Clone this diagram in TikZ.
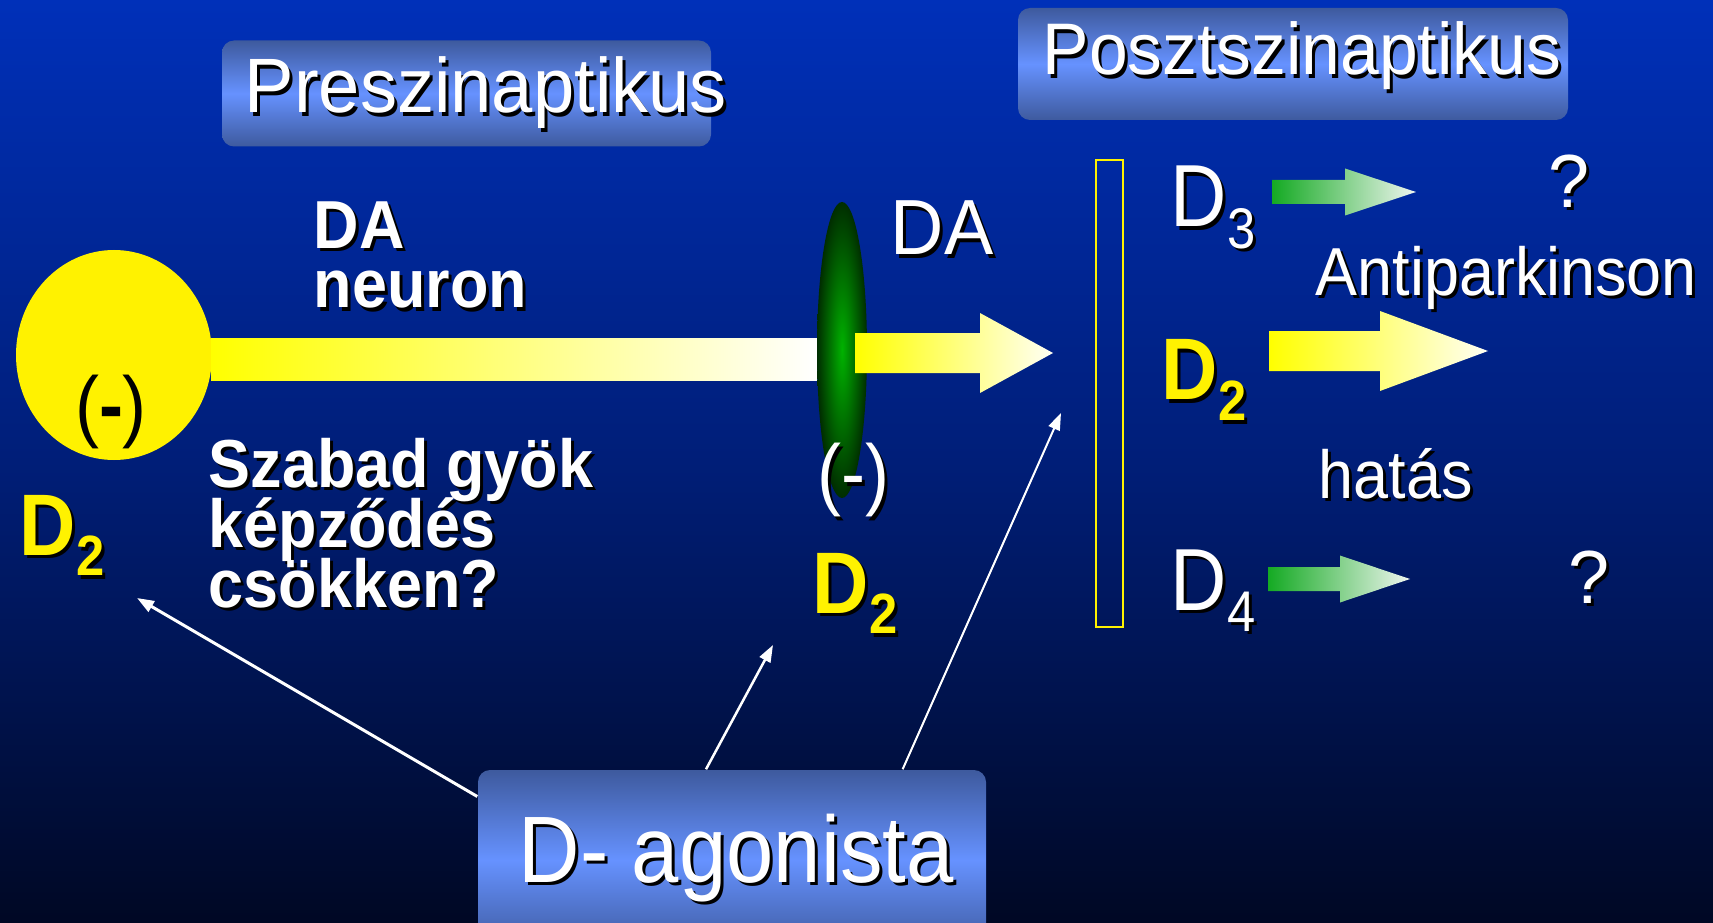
\documentclass[tikz,border=0pt]{standalone}
\usepackage{fontspec}
\setmainfont{Liberation Sans}
\usepackage{graphicx}
\usetikzlibrary{arrows.meta}

\definecolor{bgtop}{RGB}{0,48,185}
\definecolor{bgmid}{RGB}{0,30,120}
\definecolor{bgbot}{RGB}{0,8,36}
\definecolor{boxdark}{RGB}{62,90,158}
\definecolor{boxlight}{RGB}{102,146,255}
\definecolor{dagreen}{RGB}{0,178,0}
\definecolor{dadark}{RGB}{0,45,0}
\definecolor{arrgreen}{RGB}{20,170,35}
\definecolor{arrpale}{RGB}{240,246,240}

\newcommand{\shad}[2][1.08]{\scalebox{1}[#1]{\rlap{\kern0.3mm\raisebox{-0.3mm}{\color{black}#2}}#2}}
\newcommand{\lowsub}[1]{\raisebox{-0.24em}{\scalebox{0.65}{#1}}}
\newcommand{\tightlines}{\setlength{\lineskiplimit}{-1in}}

\begin{document}
\begin{tikzpicture}[x=0.1mm, y=-0.1mm,
  tbox/.style={rounded corners=1.2mm, top color=boxdark, bottom color=boxdark, middle color=boxlight, inner sep=0pt},
  txt/.style={text=white, inner sep=0pt, anchor=base west},
  bigtxt/.style={txt, font=\fontsize{21}{25}\selectfont},
  boldtxt/.style={txt, align=left, font=\bfseries\fontsize{17.9}{17.07}\selectfont\tightlines},
  smalltxt/.style={txt, font=\fontsize{17.9}{21}\selectfont},
  dtxt/.style={txt, font=\fontsize{22.2}{26}\selectfont},
  dbold/.style={txt, text=yellow, font=\bfseries\fontsize{22.2}{26}\selectfont},
  conn/.style={white, line width=0.25mm, -{Triangle[length=1.7mm, width=1.2mm]}}]

  \useasboundingbox (0,0) rectangle (1713,923);
  \clip (0,0) rectangle (1713,923);
  \shade[top color=bgtop, bottom color=bgbot, middle color=bgmid] (0,0) rectangle (1713,923);

  \node[tbox, minimum width=48.9mm, minimum height=10.6mm] (preBox) at (466.5,93.5) {};
  \node[txt, font=\fontsize{21.1}{25}\selectfont] (preTxt) at (244,113) {\shad[1.04]{Preszinaptikus}};
  \node[tbox, minimum width=55mm, minimum height=11.2mm] (postBox) at (1293,64) {};
  \node[txt, font=\fontsize{19.8}{24}\selectfont] (postTxt) at (1042,75) {\shad[1.05]{Posztszinaptikus}};

  % neuron
  \fill[yellow] (114,355) ellipse (98 and 105);
  \shade[left color=yellow, right color=white] (211,338) rectangle (817,380);
  \shade[inner color=dagreen, outer color=dadark] (842,350) ellipse (25 and 148);
  \foreach \xa/\xb/\xc/\yc in {855/980/1053/353, 1269/1380/1488/351}
    \shade[left color=yellow, right color=white!96!yellow]
      (\xa,\yc-20) -- (\xb,\yc-20) -- (\xb,\yc-40) -- (\xc,\yc) -- (\xb,\yc+40)
      -- (\xb,\yc+20) -- (\xa,\yc+20) -- cycle;
  \foreach \xa/\xb/\xc/\yc in {1272/1345/1416/192, 1268/1340/1410/579}
    \shade[left color=arrgreen, right color=arrpale]
      (\xa,\yc-12) -- (\xb,\yc-12) -- (\xb,\yc-23.5) -- (\xc,\yc) -- (\xb,\yc+23.5)
      -- (\xb,\yc+12) -- (\xa,\yc+12) -- cycle;
  \draw[yellow, line width=0.2mm] (1096,160) rectangle (1123,627);

  \node[txt, anchor=center, text=black, font=\fontsize{20.5}{24}\selectfont] (preMinus) at (111,412) {\scalebox{1}[1.1]{(\textbf{-})}};
  \node[txt, anchor=center, font=\fontsize{20.5}{24}\selectfont] (midMinus) at (853,482) {\shad[1.1]{(-)}};

  \node[boldtxt] (daNeuron) at (313,308) {\shad{DA}\\\shad{neuron}};
  \node[boldtxt] (szabad) at (208,607) {\shad{Szabad gyök}\\\shad{képződés}\\\shad{csökken?}};

  \node[bigtxt] (daSyn) at (890,255) {\shad[1.06]{DA}};
  \node[dbold] (preD) at (19,555) {\shad[1.12]{D\lowsub{2}}};
  \node[dbold] (midD) at (812,613) {\shad[1.12]{D\lowsub{2}}};
  \node[dbold] (postD) at (1161,400) {\shad[1.12]{D\lowsub{2}}};
  \node[dtxt] (dThree) at (1170,227) {\shad[1.13]{D\lowsub{3}}};
  \node[dtxt] (dFour) at (1170,610) {\shad[1.13]{D\lowsub{4}}};
  \node[bigtxt] (qThree) at (1548,207) {\shad[1.02]{?}};
  \node[bigtxt] (qFour) at (1568,603) {\shad[1.02]{?}};
  \node[smalltxt] (antiTxt) at (1315,295) {\shad{Antiparkinson}};
  \node[smalltxt] (hatTxt) at (1318,498) {\shad{hatás}};

  \node[tbox, minimum width=50.8mm, minimum height=18mm] (agon) at (732,860) {};
  \node[txt, font=\fontsize{24.2}{28}\selectfont] (agonTxt) at (518,882) {\shad[1.11]{D- agonista}};

  \coordinate (toPre) at (137,598);
  \coordinate (toMid) at (773,645);
  \coordinate (toPost) at (1061,413);
  \draw[conn, line width=0.3mm] (agon.166) -- (toPre);
  \draw[conn] (agon.106) -- (toMid);
  \draw[conn, line width=0.2mm] (agon.28.8) -- (toPost);
\end{tikzpicture}
\end{document}
